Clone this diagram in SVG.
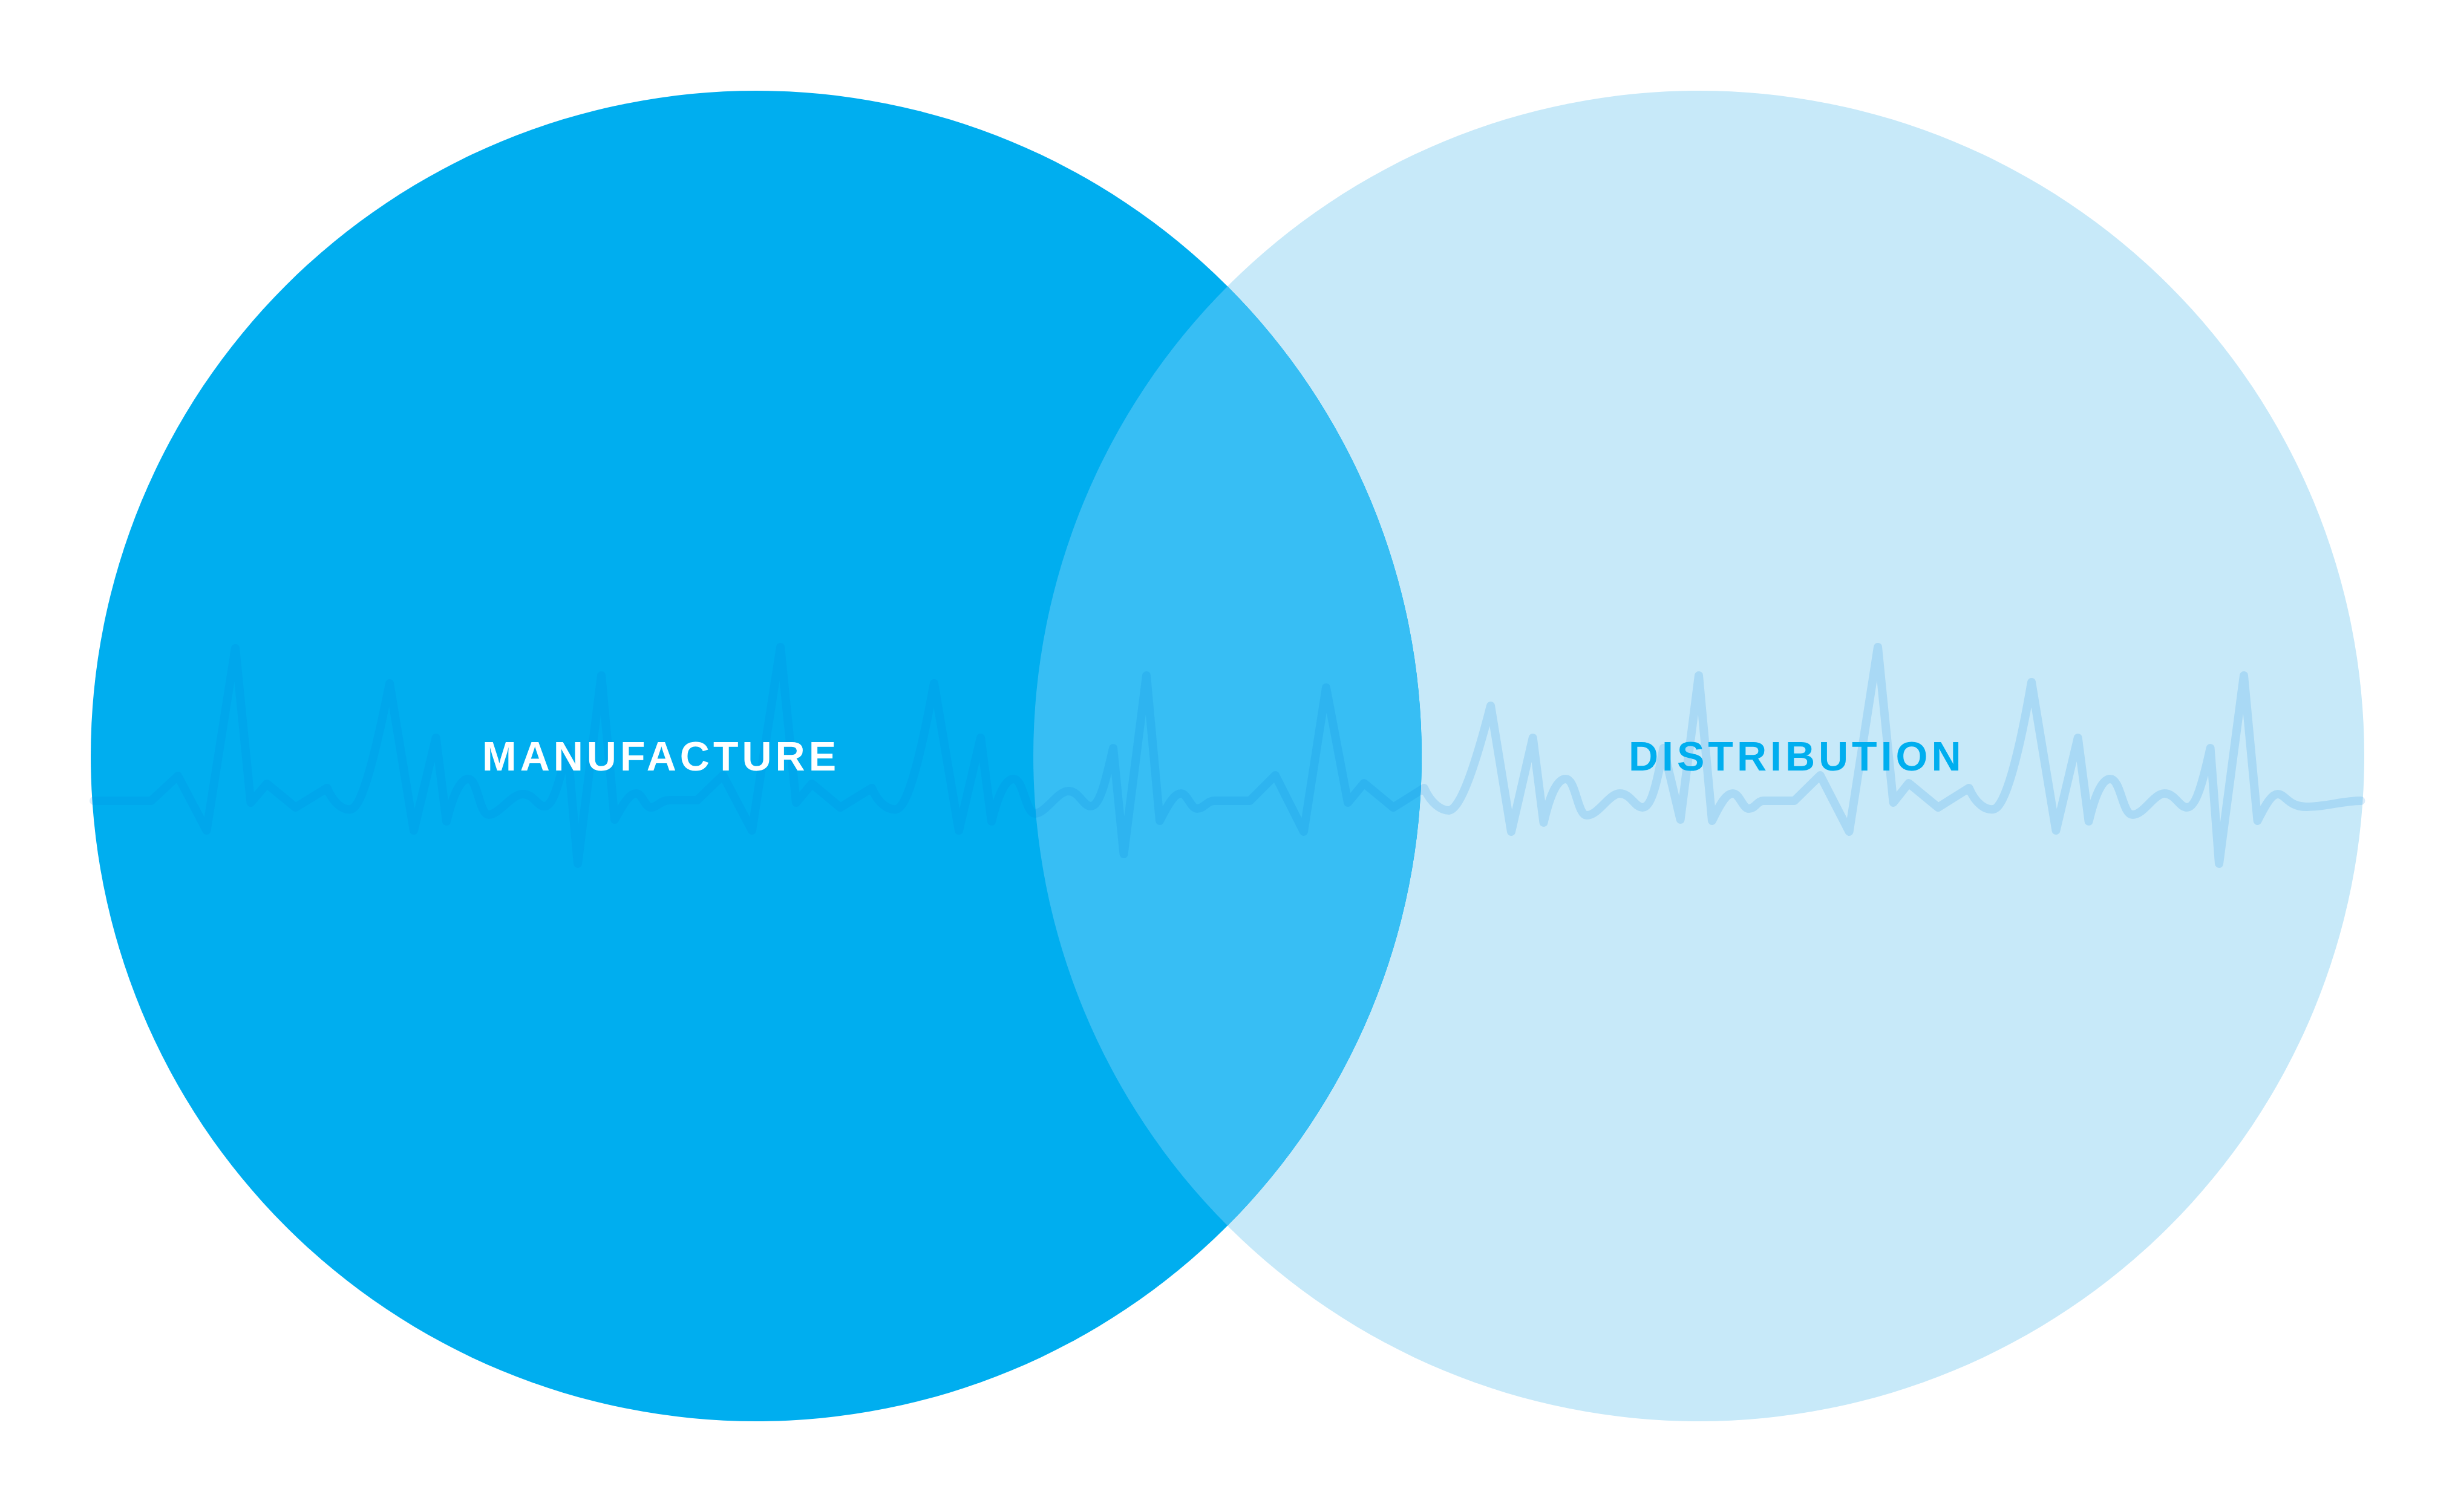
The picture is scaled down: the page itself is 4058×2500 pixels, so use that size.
<svg xmlns="http://www.w3.org/2000/svg" width="4058" height="2500" viewBox="0 0 4058 2500">
  <style>
    .lbl { font-family: "Liberation Sans", Arial, sans-serif; font-weight: bold; font-size: 68px; letter-spacing: 6px; }
    .pulse { fill: none; stroke: rgb(0,130,220); stroke-opacity: 0.15; stroke-width: 14; stroke-linejoin: round; stroke-linecap: round; }
  </style>
  <rect width="4058" height="2500" fill="#FFFFFF"/>
  <g id="distribution-circle">
    <circle cx="2808" cy="1250" r="1100" fill="#C7E9F9"/>
  </g>
  <g id="manufacture-circle">
    <circle cx="1250" cy="1250" r="1100" fill="#00AEEF"/>
  </g>
  <g id="overlap">
    <path d="M2029,473.4 A1100,1100 0 0 1 2029,2026.6 A1100,1100 0 0 1 2029,473.4 Z" fill="#37BEF4"/>
  </g>
  <g id="heartbeat">
    <path class="pulse" d="M155,1324 L250,1324 L294,1283 L341.5,1373 L389,1072 L414.5,1327 L441,1296 L488.5,1335 L540.5,1303
      C552,1330 568,1340 580,1338 C598,1336 620,1250 644,1130
      L684,1373 L720.6,1220 L738,1358
      C750,1310 762,1288 774,1288 C790,1288 792,1347 808,1347 C825,1347 845,1313 864.5,1313 C882,1313 888,1333 900,1333 C915,1333 925,1290 938,1237
      L955,1428 L994,1117 L1016,1355
      C1030,1330 1040,1312 1051.5,1312 C1062,1312 1066,1335 1076,1335 C1086,1335 1092,1323 1106.6,1323 L1152.5,1323
      L1195,1282 L1243,1373 L1290,1070 L1316,1327 L1342,1296 L1389,1335 L1441,1303
      C1452,1330 1470,1340 1481.6,1338 C1500,1336 1522,1250 1544,1130
      L1585,1373 L1621,1220 L1639,1358
      C1651,1310 1663,1288 1675.5,1288 C1692,1288 1695,1345 1711,1345 C1728,1345 1748,1308 1766,1308 C1784,1308 1790,1333 1803,1333 C1818,1333 1828,1290 1840,1237
      L1857.5,1412 L1895,1117 L1917,1357
      C1931,1330 1941,1312 1952,1312 C1963,1312 1968,1337 1979,1337 C1990,1337 1995,1324 2007,1324 L2066,1324
      L2108,1282 L2155,1375 L2192,1137 L2228,1327 L2254.6,1295 L2303,1335 L2354,1303
      C2366,1330 2383,1340 2395,1340 C2415,1338 2440,1260 2464,1167
      L2498,1375 L2533.7,1220 L2551.5,1360
      C2563,1310 2575,1288 2588,1288 C2605,1288 2607,1348 2623,1348 C2642,1348 2660,1312 2677,1312 C2696,1312 2702,1335 2715,1335 C2730,1335 2740,1290 2749.5,1237
      L2777.6,1355 L2808,1117 L2830,1357
      C2843,1330 2853,1312 2864,1312 C2876,1312 2880,1337 2891,1337 C2901,1337 2905,1324 2915,1324 L2966,1324
      L3008.7,1282 L3056.6,1375 L3104,1070 L3129.6,1327 L3155,1295 L3203.6,1335 L3254.6,1303
      C3266,1330 3283,1340 3295,1338 C3314,1336 3337,1250 3358,1128
      L3398.5,1373 L3434.7,1220 L3452.6,1358
      C3464,1310 3476,1288 3488,1288 C3506,1288 3508,1347 3525,1347 C3544,1347 3560,1312 3577.6,1312 C3596,1312 3602,1335 3615,1335 C3630,1335 3642,1290 3653.6,1237
      L3668,1428 L3709,1117 L3731.6,1357
      C3745,1330 3755,1313 3765,1313 C3778,1313 3782,1334 3813,1334 C3845,1334 3872,1324 3902.5,1324"/>
  </g>
  <g id="manufacture-label">
    <text class="lbl" x="797" y="1274" fill="#FFFFFF">MANUFACTURE</text>
  </g>
  <g id="distribution-label">
    <text class="lbl" x="2692" y="1274" fill="#00AEEF">DISTRIBUTION</text>
  </g>
</svg>
